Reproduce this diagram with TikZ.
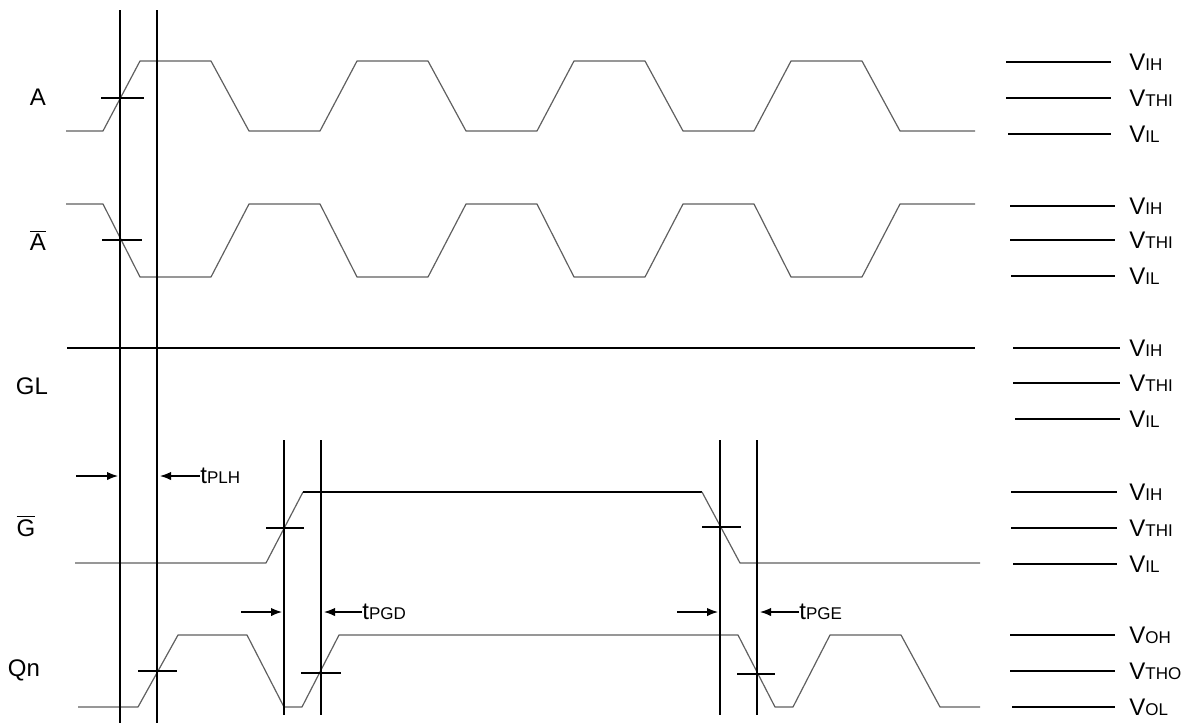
\documentclass[tikz,border=0pt]{standalone}
\usepackage{fontspec}
\setmainfont{Liberation Sans}
\usetikzlibrary{arrows.meta}
\newcommand{\lvltext}[2]{#1{\fontsize{8.5}{9}\selectfont #2}}
\begin{document}
\begin{tikzpicture}[x=0.5pt,y=-0.5pt,
  wave/.style={gray!75!black, line width=0.6pt, line join=round},
  mark line/.style={black, line width=0.6pt},
  tick/.style={black, line width=0.6pt},
  dly/.style={black, line width=0.6pt, -{Latex[length=5.5pt,width=4.2pt]}},
  sig/.style={font=\fontsize{12}{14}\selectfont, inner sep=0pt},
  lvl/.style={font=\fontsize{12}{14}\selectfont, inner sep=0pt, anchor=west},
  lvlline/.style={black, line width=0.6pt}]
\useasboundingbox (0,0) rectangle (1188,723);

% signal names
\node[sig] (nA)  at (38,97)  {A};
\node[sig] (nAb) at (38,240) {$\overline{\hbox{A}}$};
\node[sig] (nGL) at (32,386) {GL};
\node[sig] (nGb) at (26,526) {$\overline{\hbox{G}}$};
\node[sig] (nQ)  at (24,670) {Qn};

% A and A-bar
\draw[wave] (66,131) \foreach \k in {0,217,434,651} {
  -- (103+\k,131) -- (140+\k,61) -- (211+\k,61) -- (249+\k,131) } -- (975,131);
\draw[wave] (66,204) \foreach \k in {0,217,434,651} {
  -- (103+\k,204) -- (140+\k,277) -- (211+\k,277) -- (249+\k,204) } -- (975,204);

% GL
\draw[mark line] (67,348) -- (975,348);

% G-bar
\draw[wave] (75,563) -- (266,563) -- (303,492);
\draw[mark line] (303,492) -- (702,492);
\draw[wave] (702,492) -- (740,563) -- (980,563);

% Qn
\draw[wave] (78,707) -- (138,707) -- (178,635) -- (247,635) -- (284,707)
  -- (302,707) -- (339,635) -- (738,635) -- (775,707) -- (793,707)
  -- (830,635) -- (901,635) -- (940,707) -- (980,707);

% threshold ticks
\draw[tick] (101,98) -- (144,98);
\draw[tick] (102,240) -- (142,240);
\draw[tick] (266,528) -- (304,528);
\draw[tick] (702,527) -- (741,527);
\draw[tick] (138,671) -- (177,671);
\draw[tick] (301,673) -- (341,673);
\draw[tick] (737,674) -- (775,674);

% timing markers
\coordinate (m1t) at (120,10);  \coordinate (m1b) at (120,723);
\coordinate (m2t) at (157,10);  \coordinate (m2b) at (157,723);
\coordinate (m3t) at (284,440); \coordinate (m3b) at (284,715);
\coordinate (m4t) at (321,440); \coordinate (m4b) at (321,715);
\coordinate (m5t) at (720,440); \coordinate (m5b) at (720,715);
\coordinate (m6t) at (757,440); \coordinate (m6b) at (757,715);
\foreach \m in {1,...,6}
  \draw[mark line] (m\m t) -- (m\m b);

% delays
\coordinate (plhA) at (76,476);  \coordinate (plhB) at (118,476);
\coordinate (plhC) at (200,476); \coordinate (plhD) at (160,476);
\draw[dly] (plhA) -- (plhB);
\draw[dly] (plhC) -- (plhD);
\node[lvl] (tplh) at (plhC) {\lvltext{t}{PLH}};

\coordinate (pgdA) at (241,612); \coordinate (pgdB) at (282,612);
\coordinate (pgdC) at (362,612); \coordinate (pgdD) at (324,612);
\draw[dly] (pgdA) -- (pgdB);
\draw[dly] (pgdC) -- (pgdD);
\node[lvl] (tpgd) at (pgdC) {\lvltext{t}{PGD}};

\coordinate (pgeA) at (677,612); \coordinate (pgeB) at (718,612);
\coordinate (pgeC) at (799,612); \coordinate (pgeD) at (760,612);
\draw[dly] (pgeA) -- (pgeB);
\draw[dly] (pgeC) -- (pgeD);
\node[lvl] (tpge) at (pgeC) {\lvltext{t}{PGE}};

% levels on the right
\foreach \y/\xa/\xb/\txt [count=\i] in {
   62/1006/1111/IH, 98/1006/1111/THI, 134/1008/1111/IL,
  206/1010/1115/IH, 240/1010/1115/THI, 276/1011/1115/IL,
  348/1013/1120/IH, 383/1013/1120/THI, 419/1015/1120/IL,
  492/1011/1117/IH, 528/1011/1117/THI, 564/1013/1117/IL,
  635/1010/1115/OH, 671/1010/1115/THO, 707/1012/1115/OL} {
  \coordinate (lv\i a) at (\xa,\y);
  \coordinate (lv\i b) at (\xb,\y);
  \draw[lvlline] (lv\i a) -- (lv\i b);
  \node[lvl] (lvt\i) at (1129,\y) {\lvltext{V}{\txt}};
}
\end{tikzpicture}
\end{document}
